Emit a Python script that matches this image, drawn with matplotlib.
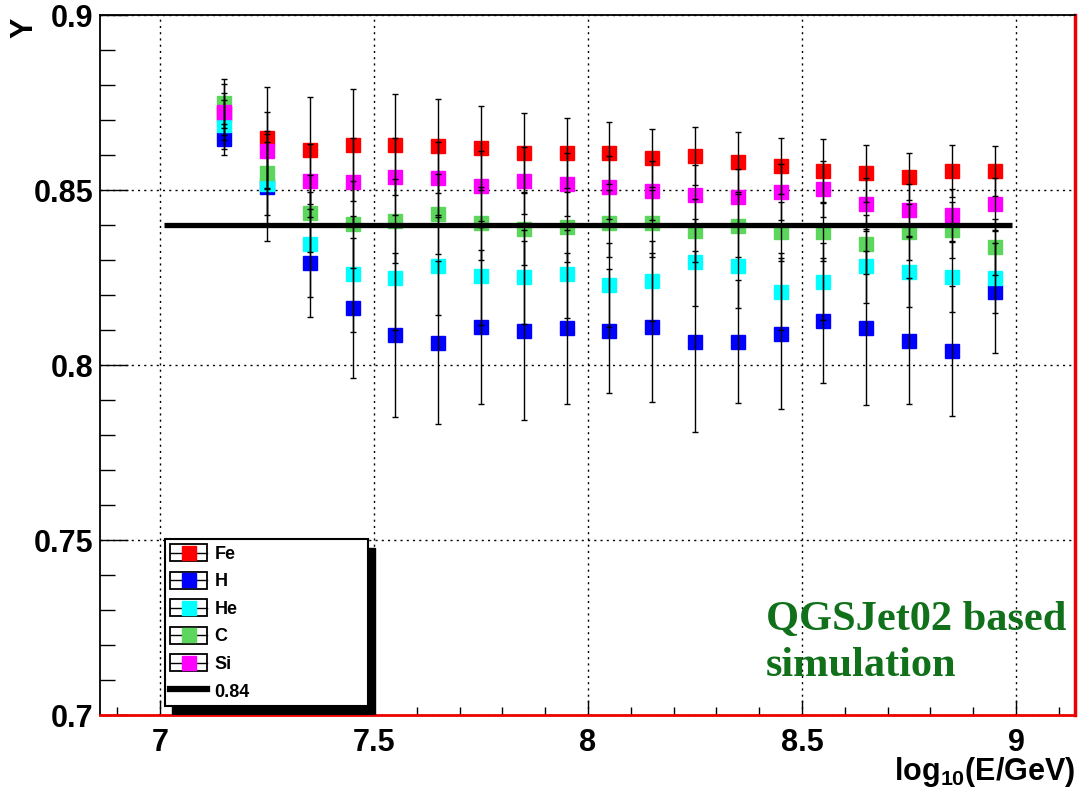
import matplotlib
matplotlib.use("Agg")
import matplotlib.pyplot as plt
from matplotlib.legend_handler import HandlerBase
from matplotlib.lines import Line2D
from matplotlib.patches import Rectangle
from matplotlib.ticker import MultipleLocator

plt.rcParams['font.family'] = ['Liberation Sans', 'DejaVu Sans']
plt.rcParams['font.weight'] = 'bold'
plt.rcParams['axes.labelweight'] = 'bold'
plt.rcParams['mathtext.fontset'] = 'custom'
plt.rcParams['mathtext.rm'] = 'Liberation Sans:bold'
plt.rcParams['mathtext.bf'] = 'Liberation Sans:bold'

# energy bins, log10(E/GeV)
x = [7.15, 7.25, 7.35, 7.45, 7.55, 7.65, 7.75, 7.85, 7.95, 8.05,
     8.15, 8.25, 8.35, 8.45, 8.55, 8.65, 8.75, 8.85, 8.95]

fe = [0.8718, 0.8650, 0.8614, 0.8629, 0.8629, 0.8626, 0.8621, 0.8605, 0.8607, 0.8605,
      0.8592, 0.8597, 0.8581, 0.8569, 0.8555, 0.8548, 0.8538, 0.8555, 0.8555]
h = [0.8645, 0.8508, 0.8292, 0.8162, 0.8086, 0.8064, 0.8108, 0.8098, 0.8105, 0.8098,
     0.8108, 0.8067, 0.8067, 0.8090, 0.8127, 0.8105, 0.8069, 0.8041, 0.8210]
he = [0.8686, 0.8516, 0.8345, 0.8260, 0.8249, 0.8283, 0.8255, 0.8252, 0.8260, 0.8229,
      0.8240, 0.8293, 0.8284, 0.8210, 0.8238, 0.8283, 0.8267, 0.8252, 0.8248]
c = [0.8748, 0.8549, 0.8433, 0.8402, 0.8411, 0.8431, 0.8405, 0.8390, 0.8395, 0.8405,
     0.8405, 0.8384, 0.8398, 0.8381, 0.8381, 0.8345, 0.8379, 0.8386, 0.8338]
si = [0.8724, 0.8612, 0.8527, 0.8524, 0.8538, 0.8533, 0.8512, 0.8527, 0.8516, 0.8508,
      0.8498, 0.8486, 0.8481, 0.8493, 0.8503, 0.8459, 0.8443, 0.8429, 0.8459]

fe_err = [0.0060, 0.0143, 0.0153, 0.0160, 0.0144, 0.0134, 0.0120, 0.0114, 0.0100, 0.0088,
          0.0082, 0.0082, 0.0086, 0.0080, 0.0091, 0.0081, 0.0067, 0.0074, 0.0072]
h_err = [0.0045, 0.0153, 0.0154, 0.0200, 0.0234, 0.0233, 0.0220, 0.0255, 0.0215, 0.0177,
         0.0213, 0.0258, 0.0175, 0.0216, 0.0178, 0.0220, 0.0180, 0.0186, 0.0177]
he_err = [0.0070, 0.0120, 0.0150, 0.0165, 0.0150, 0.0140, 0.0140, 0.0135, 0.0125, 0.0120,
          0.0115, 0.0125, 0.0120, 0.0110, 0.0110, 0.0105, 0.0100, 0.0100, 0.0100]
c_err = [0.0070, 0.0120, 0.0110, 0.0125, 0.0120, 0.0115, 0.0105, 0.0105, 0.0100, 0.0095,
         0.0095, 0.0090, 0.0090, 0.0085, 0.0085, 0.0085, 0.0080, 0.0080, 0.0080]
si_err = [0.0080, 0.0110, 0.0105, 0.0125, 0.0110, 0.0105, 0.0100, 0.0095, 0.0090, 0.0090,
          0.0085, 0.0085, 0.0080, 0.0080, 0.0080, 0.0075, 0.0075, 0.0075, 0.0075]

names = ['Fe', 'H', 'He', 'C', 'Si']
values = [fe, h, he, c, si]
errors = [fe_err, h_err, he_err, c_err, si_err]
colors = ['#ff0000', '#0000ff', '#00ffff', '#5cd65c', '#ff00ff']

ref_level = 0.84
ref_range = [7.01, 8.99]


class BoxHandler(HandlerBase):
    # ROOT-like legend entry: outlined box, line through it, marker in the middle
    def create_artists(self, legend, orig, xd, yd, width, height, fontsize, trans):
        x0, y0 = -xd, -yd
        box = Rectangle((x0, y0), width, height, fill=False, ec='k', lw=1.3,
                        transform=trans)
        mid = y0 + height / 2
        ln = Line2D([x0, x0 + width], [mid, mid], color='k', lw=1.0, transform=trans)
        mk = Line2D([x0 + width / 2], [mid], marker='s', ms=10, ls='none',
                    mfc=orig.get_markerfacecolor(), mec=orig.get_markerfacecolor(),
                    transform=trans)
        return [box, ln, mk]


fig = plt.figure(figsize=(10.79, 7.92), dpi=100)
ax = fig.add_axes([0.0927, 0.0972, 0.9036, 0.8838])

for name, val, col in zip(names, values, colors):
    ax.plot(x, val, 's', ms=10, color=col, zorder=2)
for val, err in zip(values, errors):
    ax.errorbar(x, val, yerr=err, fmt='none', ecolor='k', elinewidth=1.0,
                capsize=2.2, capthick=1.0, zorder=3)

ax.hlines(ref_level, ref_range[0], ref_range[1], color='k', lw=3.8, zorder=4)

ax.set_xlim(6.86, 9.138)
ax.set_ylim(0.7, 0.9)
ax.xaxis.set_major_locator(MultipleLocator(0.5))
ax.xaxis.set_minor_locator(MultipleLocator(0.1))
ax.yaxis.set_major_locator(MultipleLocator(0.05))
ax.yaxis.set_minor_locator(MultipleLocator(0.01))
ax.set_xticks([7, 7.5, 8, 8.5, 9], ['7', '7.5', '8', '8.5', '9'])
ax.set_yticks([0.7, 0.75, 0.8, 0.85, 0.9], ['0.7', '0.75', '0.8', '0.85', '0.9'])
ax.tick_params(axis='both', which='both', direction='in', labelsize=22, width=1.0)
ax.tick_params(axis='x', which='major', length=11, pad=9)
ax.tick_params(axis='x', which='minor', length=6)
ax.tick_params(axis='y', which='major', length=20, pad=5)
ax.tick_params(axis='y', which='minor', length=11)
ax.grid(True, which='major', ls=(0, (1.5, 3)), color='k', lw=1.0)

for side in ['left', 'top']:
    ax.spines[side].set_color('k')
    ax.spines[side].set_linewidth(1.3)
ax.spines['right'].set_color('#ee0000')
ax.spines['right'].set_linewidth(2.5)
ax.spines['bottom'].set_color('#ee0000')
ax.spines['bottom'].set_linewidth(2.0)

ax.set_xlabel(r'$\mathbf{log_{10}(E/GeV)}$', fontsize=22, loc='right')
ax.xaxis.set_label_coords(1.0, -0.057)
ax.set_ylabel('Y', fontsize=22, loc='top', fontweight='bold')
ax.yaxis.set_label_coords(-0.062, 0.996)

ax.text(0.683, 0.163, 'QGSJet02 based\nsimulation', transform=ax.transAxes,
        family=['Liberation Serif', 'DejaVu Serif'], fontsize=30.5, weight='bold',
        color='#11701a', va='top', ha='left', linespacing=1.27)

handles = [Line2D([], [], marker='s', ls='none', mfc=col, mec=col) for col in colors]
handles.append(Line2D([], [], color='k', lw=4.5))
labels = names + ['%g' % ref_level]
hmap = {hd: BoxHandler() for hd in handles[:5]}
leg = ax.legend(handles, labels, handler_map=hmap, loc='lower left',
                bbox_to_anchor=(0.0667, 0.0129, 0.2082, 0.231), mode='expand',
                fontsize=13, frameon=True,
                fancybox=False, edgecolor='k', framealpha=1, borderpad=0.3,
                handlelength=2.0, handleheight=1.05, labelspacing=0.5,
                handletextpad=0.45, borderaxespad=0)
leg.get_frame().set_linewidth(1.5)
leg.set_zorder(6)

# solid drop shadow behind the legend box
fig.canvas.draw()
bb = leg.get_window_extent().transformed(fig.transFigure.inverted())
dx, dy = 7 / 1079, 9 / 792
shadow = Rectangle((bb.x0 + dx, bb.y0 - dy), bb.width, bb.height, color='k',
                   transform=fig.transFigure, zorder=5)
ax.add_artist(shadow)

fig.savefig('out.png', dpi=100)
